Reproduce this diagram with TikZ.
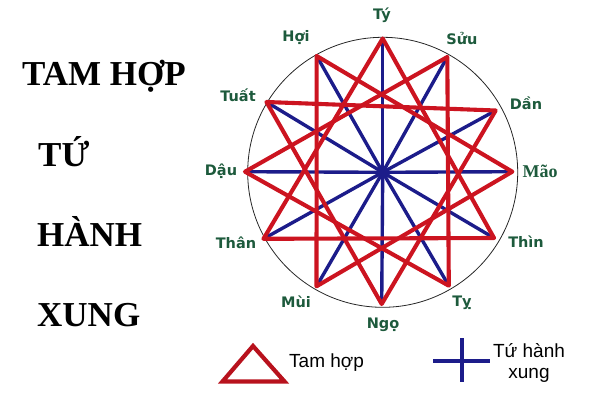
\documentclass[tikz,border=0pt]{standalone}
\usepackage{fontspec}
\setmainfont{Liberation Serif}
\newfontfamily\lblfont{DejaVu Sans}
\newfontfamily\legfont{Liberation Sans}
\definecolor{lblgreen}{HTML}{1D5A3C}
\definecolor{thred}{HTML}{CC1420}
\definecolor{thblue}{HTML}{1C1C8A}
\begin{document}
\begin{tikzpicture}[x=1pt,y=-1pt,
  redline/.style={draw=thred,line width=4.1pt,line join=round},
  blueline/.style={draw=thblue,line width=3.4pt},
  lbl/.style={text=lblgreen,font=\lblfont\bfseries\fontsize{14.5}{16}\selectfont,inner sep=0pt},
  bigtxt/.style={font=\bfseries\fontsize{35}{38}\selectfont,anchor=base west,inner sep=0pt},
  legtxt/.style={font=\legfont\fontsize{19}{20.5}\selectfont,inner sep=0pt,align=center}]
\useasboundingbox (0,0) rectangle (600,400);
% points
\coordinate (c) at (382.7,172.3);
\coordinate (ty) at (382.7,38.5);
\coordinate (hoi) at (316.7,56);
\coordinate (suu) at (447.3,57);
\coordinate (tuat) at (266.5,102);
\coordinate (dan) at (495.7,110.5);
\coordinate (dau) at (245,171.7);
\coordinate (mao) at (512.3,171.7);
\coordinate (than) at (263.5,238.8);
\coordinate (thin) at (494,238);
\coordinate (mui) at (316.5,286.3);
\coordinate (ti) at (448.8,285.7);
\coordinate (ngo) at (381.7,304);
% circle
\draw[black!85,line width=0.8pt] (c) circle (135);
% blue spokes
\foreach \p in {ty,hoi,suu,tuat,dan,dau,mao,than,thin,mui,ti,ngo}
  \draw[blueline] (c) -- (\p);
% red triangles
\draw[redline] (than) -- (ty) -- (thin) -- cycle;
\draw[redline] (hoi) -- (mao) -- (mui) -- cycle;
\draw[redline] (dan) -- (ngo) -- (tuat) -- cycle;
\draw[redline] (ti) -- (dau) -- (suu) -- cycle;
% labels
\node[lbl] (lty) at (382,15) {Tý};
\node[lbl] (lhoi) at (296,38) {Hợi};
\node[lbl] (lsuu) at (462,38) {Sửu};
\node[lbl] (ltuat) at (238,95) {Tuất};
\node[lbl] (ldan) at (526,103) {Dần};
\node[lbl] (ldau) at (221,171) {Dậu};
\node[text=lblgreen,font=\bfseries\fontsize{18}{20}\selectfont,inner sep=0pt] (lmao) at (540,171) {Mão};
\node[lbl] (lthan) at (236,243) {Thân};
\node[lbl] (lthin) at (526,242) {Thìn};
\node[lbl] (lmui) at (296,302) {Mùi};
\node[lbl] (lti) at (462,303) {Tỵ};
\node[lbl] (lngo) at (383,325) {Ngọ};
% left text
\node[bigtxt] (t1) at (22,85) {TAM HỢP};
\node[bigtxt] (t2) at (38,166.5) {TỨ};
\node[bigtxt] (t3) at (37,246.5) {HÀNH};
\node[bigtxt] (t4) at (37,326) {XUNG};
% legend
\coordinate (la) at (253,346);
\coordinate (lb) at (222.5,381.5);
\coordinate (lc) at (284.5,381.5);
\draw[draw=thred!90!black,line width=4.2pt,line join=miter] (la) -- (lb) -- (lc) -- cycle;
\node[legtxt,anchor=west] (ltam) at (289,363) {Tam hợp};
\coordinate (ch1) at (433,360.7);
\coordinate (ch2) at (490,360.7);
\coordinate (cv1) at (461.7,338);
\coordinate (cv2) at (461.7,381.7);
\draw[blueline,line width=4pt] (ch1) -- (ch2);
\draw[blueline,line width=4pt] (cv1) -- (cv2);
\node[legtxt] (ltu) at (529,363) {Tứ hành\\xung};
\end{tikzpicture}
\end{document}
